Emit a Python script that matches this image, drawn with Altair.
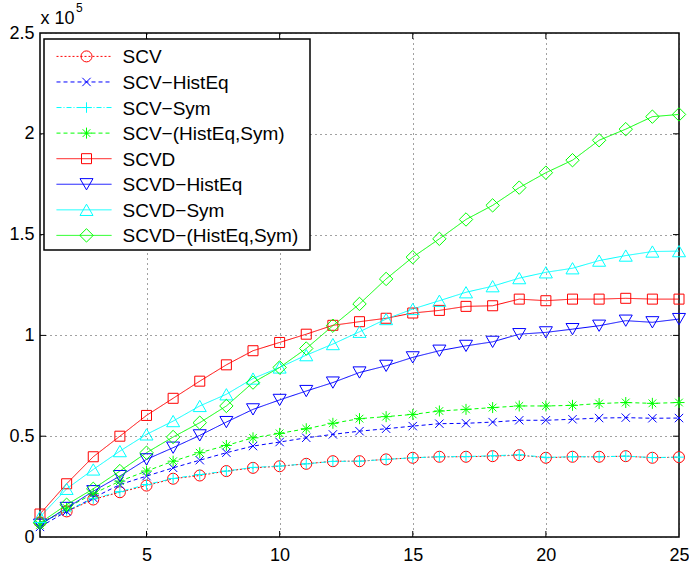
import altair as alt
import pandas as pd

# ---------------- data (values in units of 1e5) ----------------
x_vals = list(range(1, 26))
series_names = ["SCV", "SCV−HistEq", "SCV−Sym", "SCV−(HistEq,Sym)",
                "SCVD", "SCVD−HistEq", "SCVD−Sym", "SCVD−(HistEq,Sym)"]

scv = [0.073, 0.127, 0.186, 0.222, 0.255, 0.289, 0.305, 0.327, 0.343, 0.351, 0.363, 0.376, 0.376,
       0.385, 0.393, 0.398, 0.398, 0.401, 0.406, 0.393, 0.398, 0.398, 0.401, 0.393, 0.396]
scv_histeq = [0.050, 0.127, 0.194, 0.260, 0.302, 0.343, 0.381, 0.418, 0.451, 0.471, 0.492, 0.509, 0.525,
              0.537, 0.550, 0.562, 0.564, 0.570, 0.579, 0.579, 0.584, 0.590, 0.592, 0.589, 0.590]
scv_sym = [0.070, 0.130, 0.190, 0.225, 0.260, 0.290, 0.310, 0.327, 0.345, 0.352, 0.363, 0.375, 0.376,
           0.385, 0.393, 0.398, 0.399, 0.403, 0.408, 0.395, 0.398, 0.398, 0.401, 0.394, 0.396]
scv_both = [0.060, 0.144, 0.215, 0.277, 0.327, 0.376, 0.418, 0.454, 0.492, 0.514, 0.537, 0.564, 0.587,
            0.597, 0.608, 0.625, 0.633, 0.642, 0.650, 0.650, 0.653, 0.662, 0.667, 0.663, 0.667]
scvd = [0.114, 0.264, 0.398, 0.500, 0.603, 0.688, 0.773, 0.854, 0.924, 0.965, 1.006, 1.050, 1.068,
        1.085, 1.111, 1.124, 1.144, 1.147, 1.180, 1.172, 1.180, 1.180, 1.184, 1.180, 1.180]
scvd_histeq = [0.061, 0.144, 0.227, 0.302, 0.385, 0.443, 0.504, 0.570, 0.633, 0.680, 0.724, 0.766, 0.816,
               0.849, 0.891, 0.924, 0.948, 0.968, 1.006, 1.015, 1.031, 1.048, 1.073, 1.065, 1.081]
scvd_sym = [0.100, 0.239, 0.335, 0.426, 0.509, 0.575, 0.650, 0.708, 0.786, 0.841, 0.902, 0.957, 1.018,
            1.081, 1.131, 1.172, 1.214, 1.244, 1.284, 1.313, 1.333, 1.371, 1.396, 1.416, 1.418]
scvd_both = [0.070, 0.160, 0.239, 0.327, 0.418, 0.496, 0.567, 0.650, 0.766, 0.841, 0.935, 1.048, 1.156,
             1.280, 1.388, 1.479, 1.575, 1.645, 1.733, 1.807, 1.869, 1.968, 2.023, 2.085, 2.096]
series_values = [scv, scv_histeq, scv_sym, scv_both, scvd, scvd_histeq, scvd_sym, scvd_both]

x_ticks = [5, 10, 15, 20, 25]
y_ticks = [0, 0.5, 1, 1.5, 2, 2.5]
x_inner_ticks = [5, 10, 15, 20]
y_inner_ticks = [0.5, 1, 1.5, 2]
exp_base = ["x 10"]
exp_power = ["5"]

# ---------------- styles ----------------
colors = ["#ff0000", "#0000ff", "#00ffff", "#00ff00",
          "#ff0000", "#0000ff", "#00ffff", "#00ff00"]
dashes = [[2, 2], [4, 3], [5, 2, 1, 2], [4, 3], [1, 0], [1, 0], [1, 0], [1, 0]]
x_path = "M-1,-1L1,1M-1,1L1,-1"
plus_path = "M-1,0L1,0M0,-1L0,1"
star_path = "M-1,0L1,0M0,-1L0,1M-0.7,-0.7L0.7,0.7M-0.7,0.7L0.7,-0.7"
shapes = ["circle", x_path, plus_path, star_path, "square", "triangle-down", "triangle-up", "diamond"]
msizes = [121, 70, 110, 121, 100, 169, 169, 180]

rows = []
for name, vals, ms in zip(series_names, series_values, msizes):
    for xv, v in zip(x_vals, vals):
        rows.append({"x": xv, "y": v, "series": name, "msize": ms})
df = pd.DataFrame(rows)
leg = pd.DataFrame({"series": series_names, "msize": msizes})
xt_df = pd.DataFrame({"x": x_inner_ticks})
yt_df = pd.DataFrame({"y": y_inner_ticks})

W, H = 639, 504
FONT = "Liberation Sans"

xs = alt.Scale(domain=[1, 25], nice=False, zero=False)
ys = alt.Scale(domain=[0, 2.5], nice=False, zero=False)
x_enc = alt.X("x:Q", scale=xs, axis=alt.Axis(values=x_ticks, title=None, grid=True, ticks=False,
                                              domain=False, labelFlush=False, labelPadding=9,
                                              format="d"))
y_enc = alt.Y("y:Q", scale=ys, axis=alt.Axis(values=y_ticks, title=None, grid=True, ticks=False,
                                              domain=False, labelPadding=6, format="~g"))
color = alt.Color("series:N", scale=alt.Scale(domain=series_names, range=colors), legend=None)
dash = alt.StrokeDash("series:N", scale=alt.Scale(domain=series_names, range=dashes), legend=None)
shape = alt.Shape("series:N", scale=alt.Scale(domain=series_names, range=shapes), legend=None)
size = alt.Size("msize:Q", scale=None, legend=None)

lines = alt.Chart(df).mark_line(strokeWidth=1).encode(
    x=x_enc, y=y_enc, color=color, strokeDash=dash)
points = alt.Chart(df).mark_point(filled=False, strokeWidth=1, opacity=1).encode(
    x=x_enc, y=y_enc, color=color, shape=shape, size=size)

# inward ticks (MATLAB style)
tick_len = 6
xt_bottom = alt.Chart(xt_df).mark_rule(color="black", strokeWidth=1).encode(
    x=x_enc, y=alt.value(H), y2=alt.value(H - tick_len))
xt_top = alt.Chart(xt_df).mark_rule(color="black", strokeWidth=1).encode(
    x=x_enc, y=alt.value(0), y2=alt.value(tick_len))
yt_left = alt.Chart(yt_df).mark_rule(color="black", strokeWidth=1).encode(
    y=y_enc, x=alt.value(0), x2=alt.value(tick_len))
yt_right = alt.Chart(yt_df).mark_rule(color="black", strokeWidth=1).encode(
    y=y_enc, x=alt.value(W), x2=alt.value(W - tick_len))

# exponent label
exp1 = alt.Chart(pd.DataFrame({"t": exp_base})).mark_text(
    font=FONT, fontSize=18, align="left", baseline="alphabetic", color="black").encode(
    text="t:N", x=alt.value(0.5), y=alt.value(-9))
exp2 = alt.Chart(pd.DataFrame({"t": exp_power})).mark_text(
    font=FONT, fontSize=12, align="left", baseline="alphabetic", color="black").encode(
    text="t:N", x=alt.value(36), y=alt.value(-21))

# manual legend
row0 = 23.4
yoff = alt.YOffset("series:N", scale=alt.Scale(type="point", domain=series_names,
                                               range=[0, 179], padding=0))
leg_box = alt.Chart(pd.DataFrame({"a": [0]})).mark_rect(
    fill="white", stroke="black", strokeWidth=1.5).encode(
    x=alt.value(4), x2=alt.value(270), y=alt.value(6), y2=alt.value(217))
leg_lines = alt.Chart(leg).mark_rule(strokeWidth=1).encode(
    x=alt.value(16.5), x2=alt.value(71.5), y=alt.value(row0), yOffset=yoff,
    color=color, strokeDash=dash)
leg_pts = alt.Chart(leg).mark_point(filled=False, strokeWidth=1, opacity=1).encode(
    x=alt.value(46.5), y=alt.value(row0), yOffset=yoff, color=color, shape=shape, size=size)
leg_text = alt.Chart(leg).mark_text(font=FONT, fontSize=19, align="left", baseline="middle",
                                    color="black").encode(
    x=alt.value(82.5), y=alt.value(row0 + 1), yOffset=yoff, text="series:N")

chart = alt.layer(
    lines, points, xt_bottom, xt_top, yt_left, yt_right, exp1, exp2,
    leg_box, leg_lines, leg_pts, leg_text
).properties(
    width=W, height=H,
    padding={"left": 40, "top": 33, "right": 10, "bottom": 31},
    autosize=alt.AutoSizeParams(type="none"),
    background="white",
).configure_view(
    stroke="black", strokeWidth=1.5
).configure_axis(
    labelFont=FONT, labelFontSize=18, labelColor="black",
    gridColor="#222222", gridDash=[1, 4], gridWidth=1, gridOpacity=0.85,
)

chart.save("out.html", embed_options={"renderer": "svg", "actions": False})
